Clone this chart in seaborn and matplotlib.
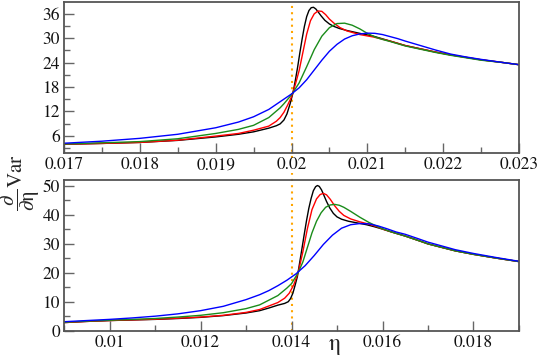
import matplotlib
matplotlib.use('Agg')
import matplotlib.pyplot as plt
from matplotlib.ticker import MultipleLocator
import pandas as pd
import seaborn as sns

# painel de cima (eta_c ~ 0.020)
top_black_x = [0.017, 0.0175, 0.018, 0.0185, 0.019, 0.0193, 0.0195, 0.0197, 0.0198, 0.01985, 0.0199, 0.01994,
               0.01998, 0.02002, 0.02005, 0.02008, 0.02011, 0.02014, 0.02017, 0.0202, 0.02023, 0.02026, 0.02029,
               0.02032, 0.02035, 0.02039, 0.02044, 0.0205, 0.02056, 0.02063, 0.02073, 0.0209, 0.02108, 0.0213,
               0.0215, 0.0217, 0.0219, 0.0221, 0.0223, 0.0225, 0.0228, 0.023]
top_black_y = [3.95, 4.15, 4.4, 4.9, 5.75, 6.4, 7.0, 7.9, 8.5, 8.95, 9.9, 11.4,
               13.8, 16.6, 19.6, 22.8, 26.4, 29.8, 32.9, 35.3, 36.8, 37.5, 37.6,
               37.2, 36.5, 35.5, 34.4, 33.5, 32.9, 32.4, 31.9, 31.2, 30.5, 29.3,
               28.2, 27.4, 26.6, 25.9, 25.3, 24.7, 24.0, 23.5]

top_red_x = [0.017, 0.0175, 0.018, 0.0185, 0.019, 0.0193, 0.0195, 0.0197, 0.0198, 0.01985, 0.0199, 0.01995,
             0.02, 0.02005, 0.0201, 0.02015, 0.0202, 0.02025, 0.0203, 0.02035, 0.0204, 0.02045, 0.0205,
             0.02056, 0.02064, 0.02073, 0.0209, 0.02108, 0.0213, 0.0215, 0.0217, 0.0219, 0.0221, 0.0223,
             0.0225, 0.0228, 0.023]
top_red_y = [3.95, 4.15, 4.4, 4.95, 5.95, 6.6, 7.4, 8.4, 9.6, 10.5, 11.8, 13.6,
             15.6, 18.6, 22.0, 26.5, 31.0, 34.3, 36.0, 36.7, 36.6, 35.8, 34.7,
             33.7, 32.6, 31.8, 30.9, 30.3, 29.3, 28.2, 27.4, 26.6, 25.9, 25.3,
             24.7, 24.0, 23.5]

top_green_x = [0.017, 0.0175, 0.018, 0.0185, 0.019, 0.0193, 0.0195, 0.0197, 0.01985, 0.0199, 0.01995, 0.02,
               0.0201, 0.0202, 0.0203, 0.0204, 0.0205, 0.0206, 0.0207, 0.0208, 0.0209, 0.021, 0.0211,
               0.0212, 0.0213, 0.0215, 0.0217, 0.0219, 0.0221, 0.0223, 0.0225, 0.0228, 0.023]
top_green_y = [4.0, 4.3, 4.6, 5.3, 6.6, 7.6, 8.6, 10.5, 12.9, 13.9, 15.0, 16.1,
               19.0, 23.0, 27.2, 30.5, 32.6, 33.6, 33.7, 33.2, 32.3, 31.2, 30.3,
               29.7, 29.2, 28.1, 27.3, 26.5, 25.8, 25.2, 24.6, 24.0, 23.5]

top_blue_x = [0.017, 0.0175, 0.018, 0.0185, 0.019, 0.0193, 0.0195, 0.0197, 0.01985, 0.02, 0.0201, 0.0202,
              0.0203, 0.0204, 0.0205, 0.0206, 0.0207, 0.0208, 0.0209, 0.021, 0.0211, 0.0212, 0.0213,
              0.0214, 0.0215, 0.0217, 0.0219, 0.0221, 0.0223, 0.0225, 0.0228, 0.023]
top_blue_y = [4.2, 4.7, 5.4, 6.4, 8.0, 9.4, 10.7, 12.5, 14.4, 16.3, 17.8, 19.8,
              22.2, 24.6, 26.8, 28.5, 29.8, 30.6, 31.05, 31.25, 31.2, 30.9, 30.4,
              29.9, 29.3, 28.2, 27.1, 26.1, 25.4, 24.8, 24.0, 23.5]

# painel de baixo (eta_c ~ 0.014)
bot_black_x = [0.009, 0.0095, 0.01, 0.0105, 0.011, 0.0115, 0.012, 0.0125, 0.013, 0.0133, 0.0135, 0.0137,
               0.01385, 0.01393, 0.01398, 0.01403, 0.01408, 0.01413, 0.01418, 0.01423, 0.01428, 0.01433, 0.01438,
               0.01443, 0.01448, 0.01453, 0.01457, 0.01461, 0.01466, 0.01471, 0.01477, 0.01484, 0.01492, 0.015,
               0.0151, 0.01525, 0.01545, 0.01565, 0.0158, 0.016, 0.0162, 0.0165, 0.0168, 0.017, 0.0173,
               0.0176, 0.018, 0.0185, 0.019]
bot_black_y = [2.9, 3.3, 3.6, 3.8, 4.0, 4.3, 4.7, 5.3, 6.2, 7.0, 7.9, 8.9,
               9.5, 10.1, 11.2, 13.0, 15.8, 18.8, 23.6, 28.4, 33.3, 38.0, 42.2,
               45.6, 48.3, 49.7, 50.1, 49.8, 48.6, 46.8, 44.6, 42.4, 40.5, 39.3,
               38.5, 37.8, 37.2, 36.6, 36.0, 35.1, 34.1, 32.7, 31.1, 30.0, 28.8,
               27.6, 26.4, 25.1, 23.9]

bot_red_x = [0.009, 0.0095, 0.01, 0.0105, 0.011, 0.0115, 0.012, 0.0125, 0.013, 0.0133, 0.0135, 0.0137,
             0.01385, 0.01395, 0.01405, 0.01415, 0.01425, 0.01435, 0.01445, 0.01455, 0.01463, 0.0147, 0.01477,
             0.01485, 0.01495, 0.01505, 0.01515, 0.0153, 0.0155, 0.0157, 0.0159, 0.016, 0.0162, 0.0165,
             0.0168, 0.017, 0.0173, 0.0176, 0.018, 0.0185, 0.019]
bot_red_y = [2.9, 3.3, 3.6, 3.85, 4.05, 4.4, 4.8, 5.4, 6.4, 7.4, 8.6, 9.8,
             11.3, 13.0, 15.9, 20.3, 27.3, 35.3, 41.8, 45.5, 47.0, 47.4, 46.9,
             45.4, 43.1, 41.2, 39.8, 38.6, 37.6, 36.8, 35.8, 35.1, 34.1, 32.7,
             31.1, 30.0, 28.8, 27.6, 26.4, 25.1, 23.9]

bot_green_x = [0.009, 0.0095, 0.01, 0.0105, 0.011, 0.0115, 0.012, 0.0125, 0.013, 0.0133, 0.0135, 0.0137,
               0.0139, 0.014, 0.01415, 0.01425, 0.01435, 0.01445, 0.01455, 0.01465, 0.01475, 0.01485, 0.01495,
               0.01505, 0.01515, 0.0153, 0.0155, 0.0157, 0.0159, 0.016, 0.0162, 0.0165, 0.0168, 0.017,
               0.0173, 0.0176, 0.018, 0.0185, 0.019]
bot_green_y = [3.0, 3.4, 3.7, 4.0, 4.3, 4.8, 5.4, 6.3, 7.7, 9.0, 10.6, 12.2,
               14.8, 16.3, 20.2, 23.8, 28.8, 33.8, 37.8, 40.7, 42.6, 43.4, 43.6,
               43.3, 42.6, 41.2, 39.2, 37.4, 35.9, 35.2, 34.1, 32.7, 31.1, 30.0,
               28.8, 27.6, 26.4, 25.1, 23.9]

bot_blue_x = [0.009, 0.0095, 0.01, 0.0105, 0.011, 0.0115, 0.012, 0.0125, 0.013, 0.0133, 0.0135, 0.0137,
              0.0139, 0.0141, 0.0143, 0.0145, 0.0147, 0.0149, 0.0151, 0.0153, 0.0155, 0.0157, 0.0159,
              0.0161, 0.0163, 0.0165, 0.0168, 0.017, 0.0173, 0.0176, 0.018, 0.0185, 0.019]
bot_blue_y = [3.2, 3.6, 4.0, 4.5, 5.1, 5.9, 7.0, 8.5, 10.8, 12.5, 13.9, 15.6,
              17.5, 19.7, 22.5, 26.0, 29.8, 33.0, 35.4, 36.6, 37.0, 36.9, 36.2,
              35.2, 34.1, 33.3, 31.7, 30.6, 29.3, 28.0, 26.7, 25.3, 24.0]

eta_c_top = 0.020
eta_c_bot = 0.014

top_xticks = [0.017, 0.018, 0.019, 0.020, 0.021, 0.022, 0.023]
top_xlabels = ['0.017', '0.018', '0.019', '0.02', '0.021', '0.022', '0.023']
top_yticks = [6, 12, 18, 24, 30, 36]
bot_xticks = [0.010, 0.012, 0.014, 0.016, 0.018]
bot_xlabels = ['0.01', '0.012', '0.014', '0.016', '0.018']
bot_yticks = [0, 10, 20, 30, 40, 50]

series = ['black', 'red', 'green', 'blue']
cores = {'black': '#000000', 'red': '#ff0000', 'green': '#1a8c1a', 'blue': '#0000ff'}


def monta_df(xs, ys):
    partes = []
    for nome, x, y in zip(series, xs, ys):
        partes.append(pd.DataFrame({'eta': x, 'val': y, 'serie': nome}))
    return pd.concat(partes, ignore_index=True)


df_top = monta_df([top_black_x, top_red_x, top_green_x, top_blue_x],
                  [top_black_y, top_red_y, top_green_y, top_blue_y])
df_bot = monta_df([bot_black_x, bot_red_x, bot_green_x, bot_blue_x],
                  [bot_black_y, bot_red_y, bot_green_y, bot_blue_y])

sns.set_style('ticks')
# fonte tipo Times (STIX vem junto com o matplotlib)
plt.rcParams['font.family'] = ['STIXGeneral', 'DejaVu Serif']
plt.rcParams['mathtext.fontset'] = 'stix'

fig = plt.figure(figsize=(5.4, 3.58), dpi=100)
ax1 = fig.add_axes([64 / 540, 1 - 153 / 358, 455 / 540, 151 / 358])
ax2 = fig.add_axes([64 / 540, 1 - 331 / 358, 455 / 540, 151 / 358])

paineis = [
    (ax1, df_top, (0.017, 0.023), (1.8, 38.9), top_xticks, top_xlabels, top_yticks, 0.0005, 3),
    (ax2, df_bot, (0.009, 0.019), (0, 52), bot_xticks, bot_xlabels, bot_yticks, 0.001, 5),
]

for ax, df, xlim, ylim, xt, xl, yt, xminor, yminor in paineis:
    sns.lineplot(data=df, x='eta', y='val', hue='serie', palette=cores, hue_order=series,
                 estimator=None, sort=False, linewidth=1.0, legend=False, ax=ax)
    ax.set_xlim(*xlim)
    ax.set_ylim(*ylim)
    ax.set_xticks(xt)
    ax.set_xticklabels(xl)
    ax.set_yticks(yt)
    ax.set_yticklabels([str(v) for v in yt])
    ax.xaxis.set_minor_locator(MultipleLocator(xminor))
    ax.yaxis.set_minor_locator(MultipleLocator(yminor))
    ax.tick_params(which='major', direction='in', length=7, width=1.0, color='#666666',
                   labelsize=12.5, labelcolor='#111111', pad=3)
    ax.tick_params(which='minor', direction='in', length=4, width=1.0, color='#666666')
    ax.tick_params(top=False, right=False, which='both')
    for sp in ax.spines.values():
        sp.set_visible(True)
        sp.set_color('#555555')
        sp.set_linewidth(1.3)
    ax.set_xlabel('')
    ax.set_ylabel('')

# linha pontilhada no ponto critico
ax1.axvline(eta_c_top, ymin=-0.035, ymax=1, color='#ffa500', linestyle=(0, (1, 2)),
            linewidth=1.5, clip_on=False, zorder=0)
ax2.axvline(eta_c_bot, ymin=0, ymax=1.046, color='#ffa500', linestyle=(0, (1, 2)),
            linewidth=1.5, clip_on=False, zorder=0)

ax2.set_xlabel('η', fontsize=17, labelpad=0)
ax2.xaxis.set_label_coords(0.596, -0.02)

fig.text(0.038, 0.49, r'$\dfrac{\partial}{\partial\mathrm{\eta}}\mathrm{Var}$', rotation=90,
         ha='center', va='center', fontsize=15)

fig.savefig('out.png', dpi=100)
plt.close()
